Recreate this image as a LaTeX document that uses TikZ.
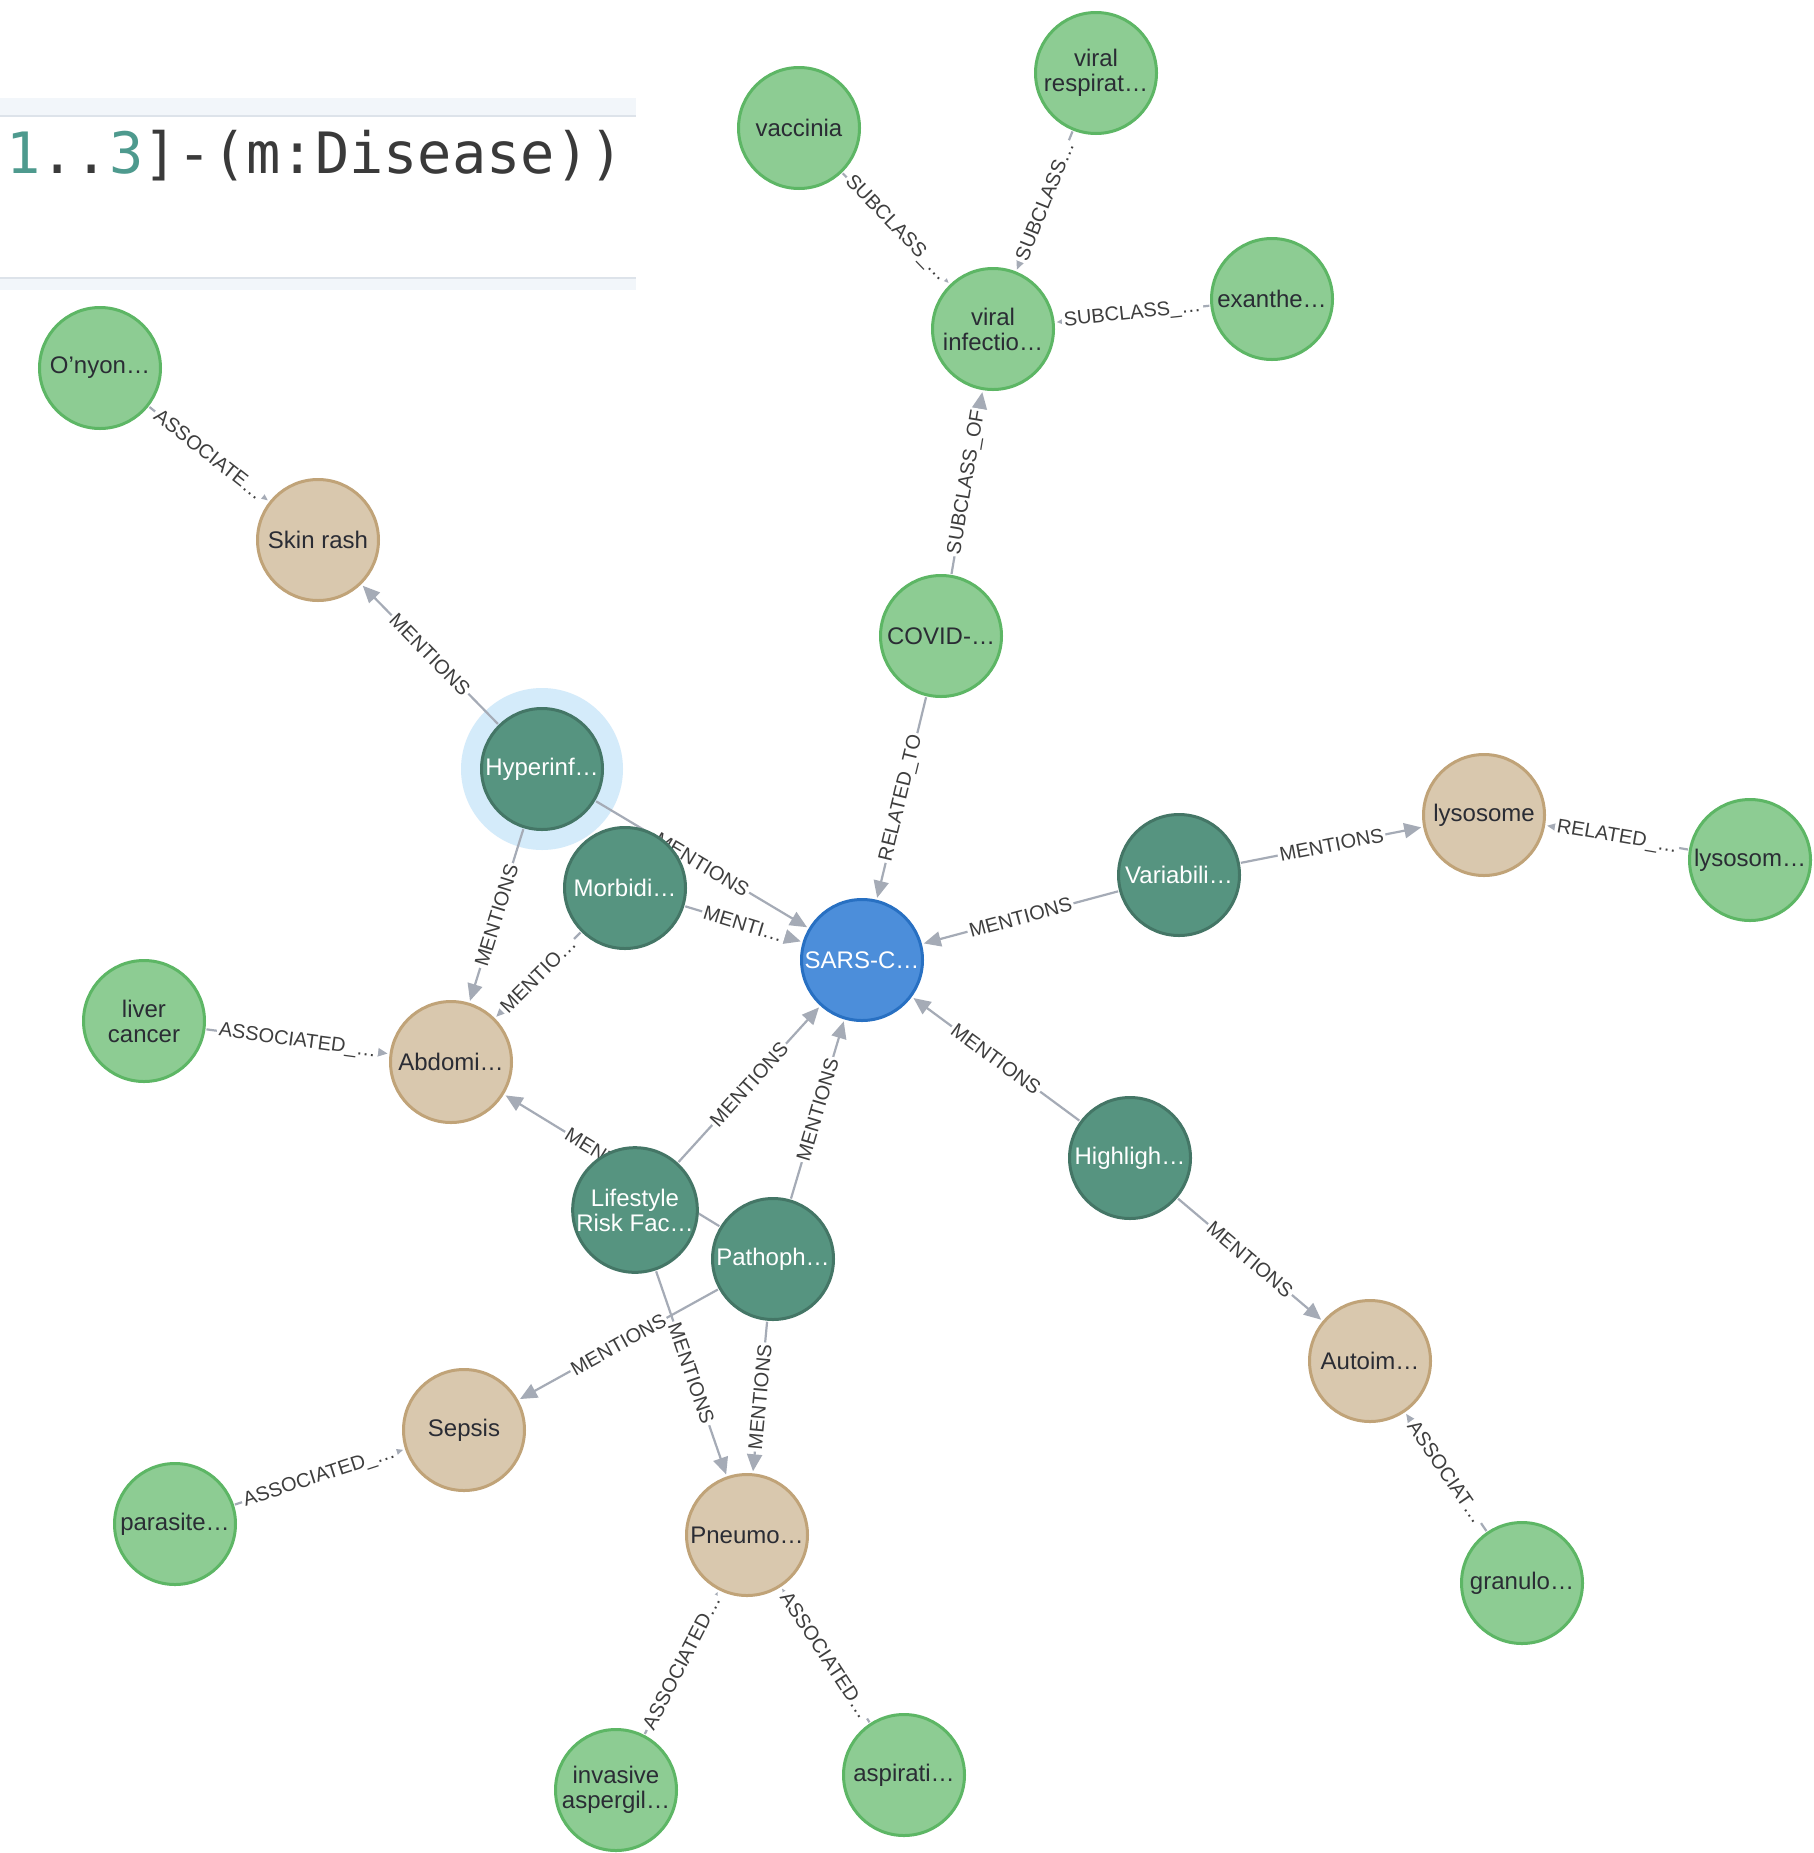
\documentclass[tikz,border=0pt]{standalone}
\usepackage{fontspec}
\setmainfont{Liberation Sans}
\newfontfamily\codefont{DejaVu Sans Mono}
\usetikzlibrary{arrows.meta}
\pgfdeclarelayer{bglayer}
\pgfdeclarelayer{halolayer}
\pgfdeclarelayer{edgelayer}
\pgfsetlayers{bglayer,halolayer,edgelayer,main}
\definecolor{gfill}{HTML}{8DCC93}
\definecolor{gline}{HTML}{5DB665}
\definecolor{tfill}{HTML}{D9C8AE}
\definecolor{tline}{HTML}{C0A378}
\definecolor{dfill}{HTML}{569480}
\definecolor{dline}{HTML}{447666}
\definecolor{bfill}{HTML}{4C8EDA}
\definecolor{bline}{HTML}{2870C2}
\definecolor{edgec}{HTML}{A5ABB6}
\definecolor{labc}{HTML}{3E3E3E}
\definecolor{haloc}{HTML}{D4EBFA}
\definecolor{darktext}{HTML}{2A2C34}
\definecolor{codeteal}{HTML}{4E9A8E}
\definecolor{codegray}{HTML}{3A3A3A}
\definecolor{bandc}{HTML}{F2F6FA}
\definecolor{bandline}{HTML}{DDE3EA}
\begin{document}
\begin{tikzpicture}[x=1pt,y=-1pt,
  base/.style={circle, minimum size=121pt, inner sep=0pt, line width=3pt, align=center,
    font=\fontsize{24}{25}\selectfont},
  gnode/.style={base, fill=gfill, draw=gline, text=darktext},
  tnode/.style={base, fill=tfill, draw=tline, text=darktext},
  dnode/.style={base, fill=dfill, draw=dline, text=white},
  bnode/.style={base, fill=bfill, draw=bline, text=white},
  rel/.style={draw=edgec, line width=2.2pt, -{Triangle[length=17pt,width=15pt]},
    shorten >=2pt, shorten <=1pt},
  lab/.style={sloped, midway, fill=white, inner sep=2pt, text=labc,
    font=\fontsize{20}{20}\selectfont}
]
\useasboundingbox (0,0) rectangle (1814,1853);
\begin{pgfonlayer}{bglayer}
\fill[white] (0,0) rectangle (1814,1853);
\end{pgfonlayer}

% query editor strip
\fill[bandc] (0,98) rectangle (636,116);
\draw[bandline, line width=2pt] (0,116) -- (636,116);
\draw[bandline, line width=2pt] (0,278) -- (636,278);
\fill[bandc] (0,279) rectangle (636,290);
\node[anchor=base west, inner sep=0pt, font=\codefont\fontsize{57}{57}\selectfont]
  (code) at (6,173) {\textcolor{codeteal}{1}\textcolor{codegray}{..}\textcolor{codeteal}{3}\textcolor{codegray}{]-(m:Disease))}};

% nodes
\node[gnode] (vacc)  at (799,128) {vaccinia};
\node[gnode] (vresp) at (1096,73) {viral\\respirat…};
\node[gnode] (exan)  at (1272,299) {exanthe…};
\node[gnode] (vinf)  at (993,329) {viral\\infectio…};
\node[gnode] (onyon) at (100,368) {O'nyon…};
\node[tnode] (skin)  at (318,540) {Skin rash};
\node[gnode] (covid) at (941,636) {COVID-…};
\node[dnode] (hyper) at (542,769) {Hyperinf…};
\node[dnode] (morb)  at (625,888) {Morbidi…};
\node[bnode] (sars)  at (862,960) {SARS-C…};
\node[dnode] (var)   at (1179,875) {Variabili…};
\node[tnode] (lyso)  at (1484,815) {lysosome};
\node[gnode] (lyso2) at (1750,860) {lysosom…};
\node[gnode] (liver) at (144,1021) {liver\\cancer};
\node[tnode] (abd)   at (451,1062) {Abdomi…};
\node[dnode] (life)  at (635,1210) {Lifestyle\\Risk Fac…};
\node[dnode] (path)  at (773,1259) {Pathoph…};
\node[dnode] (high)  at (1130,1158) {Highligh…};
\node[tnode] (auto)  at (1370,1361) {Autoim…};
\node[tnode] (seps)  at (464,1430) {Sepsis};
\node[gnode] (para)  at (175,1524) {parasite…};
\node[tnode] (pneu)  at (747,1535) {Pneumo…};
\node[gnode] (gran)  at (1522,1583) {granulo…};
\node[gnode] (inv)   at (616,1790) {invasive\\aspergil…};
\node[gnode] (asp)   at (904,1775) {aspirati…};

\begin{pgfonlayer}{halolayer}
\fill[haloc] (hyper.center) circle (81);
\end{pgfonlayer}

\begin{pgfonlayer}{edgelayer}
\draw[rel] (vacc) -- node[lab]{SUBCLASS\_…} (vinf);
\draw[rel] (vresp) -- node[lab]{SUBCLASS…} (vinf);
\draw[rel] (exan) -- node[lab]{SUBCLASS\_…} (vinf);
\draw[rel] (covid) -- node[lab]{SUBCLASS\_OF} (vinf);
\draw[rel] (covid) -- node[lab]{RELATED\_TO} (sars);
\draw[rel] (onyon) -- node[lab]{ASSOCIATE…} (skin);
\draw[rel] (hyper) -- node[lab]{MENTIONS} (skin);
\draw[rel] (hyper) -- node[lab]{MENTIONS} (sars);
\draw[rel] (hyper) -- node[lab]{MENTIONS} (abd);
\draw[rel] (morb) -- node[lab]{MENTI…} (sars);
\draw[rel] (morb) -- node[lab]{MENTIO…} (abd);
\draw[rel] (var) -- node[lab]{MENTIONS} (sars);
\draw[rel] (var) -- node[lab]{MENTIONS} (lyso);
\draw[rel] (lyso2) -- node[lab]{RELATED\_…} (lyso);
\draw[rel] (liver) -- node[lab]{ASSOCIATED\_…} (abd);
\draw[rel] (life) -- node[lab]{MENTIONS} (sars);
\draw[rel] (path) -- node[lab]{MENTIONS} (sars);
\draw[rel] (path) -- node[lab]{MENTIONS} (abd);
\draw[rel] (high) -- node[lab]{MENTIONS} (sars);
\draw[rel] (high) -- node[lab]{MENTIONS} (auto);
\draw[rel] (gran) -- node[lab]{ASSOCIAT…} (auto);
\draw[rel] (path) -- node[lab]{MENTIONS} (seps);
\draw[rel] (para) -- node[lab]{ASSOCIATED\_…} (seps);
\draw[rel] (life) -- node[lab]{MENTIONS} (pneu);
\draw[rel] (path) -- node[lab]{MENTIONS} (pneu);
\draw[rel] (inv) -- node[lab]{ASSOCIATED…} (pneu);
\draw[rel] (asp) -- node[lab]{ASSOCIATED…} (pneu);
\end{pgfonlayer}
\end{tikzpicture}
\end{document}
